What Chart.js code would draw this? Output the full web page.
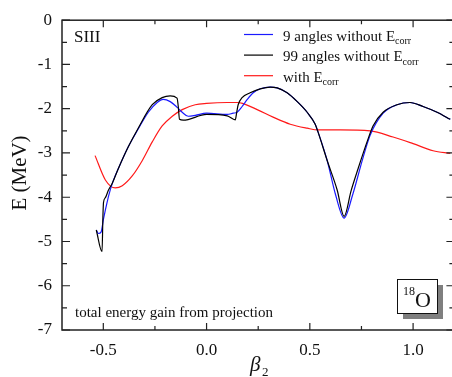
<!DOCTYPE html>
<html>
<head>
<meta charset="utf-8">
<script src="https://cdn.jsdelivr.net/npm/chart.js@4.4.1/dist/chart.umd.min.js"></script>
<style>
  body { margin: 0; background: #fff; }
  #wrap { width: 452px; height: 377px; overflow: hidden; position: relative; }
</style>
</head>
<body>
<div id="wrap"><canvas id="energy_chart" width="458" height="377"></canvas></div>
<script>
// beta2 deformation / energy gain values, one pair of arrays per curve
var beta9 = [-0.534, -0.523, -0.511, -0.499, -0.482, -0.466, -0.452, -0.427, -0.379, -0.331, -0.282, -0.239, -0.21, -0.176, -0.142, -0.118, -0.089, -0.055, 0.0, 0.1, 0.129, 0.148, 0.172, 0.197, 0.226, 0.26, 0.308, 0.342, 0.39, 0.439, 0.487, 0.526, 0.54, 0.584, 0.625, 0.666, 0.707, 0.755, 0.792, 0.855, 0.922, 0.985, 1.048, 1.116, 1.18];
var e9 = [-4.74, -4.82, -4.79, -4.49, -4.12, -3.83, -3.63, -3.35, -2.86, -2.46, -2.08, -1.86, -1.79, -1.84, -1.97, -2.08, -2.17, -2.15, -2.10, -2.13, -2.10, -2.08, -1.95, -1.79, -1.64, -1.55, -1.51, -1.53, -1.64, -1.84, -2.08, -2.35, -2.53, -3.17, -3.95, -4.47, -3.95, -3.15, -2.60, -2.10, -1.91, -1.86, -1.95, -2.08, -2.24];

var beta99 = [-0.534, -0.506, -0.502, -0.499, -0.49, -0.476, -0.456, -0.427, -0.379, -0.331, -0.263, -0.215, -0.176, -0.143, -0.137, -0.131, -0.113, 0.0, 0.1, 0.139, 0.146, 0.153, 0.172, 0.211, 0.26, 0.308, 0.342, 0.39, 0.439, 0.487, 0.526, 0.54, 0.584, 0.632, 0.666, 0.7, 0.734, 0.777, 0.806, 0.855, 0.922, 0.985, 1.048, 1.116, 1.18];
var e99 = [-4.74, -5.23, -4.45, -4.12, -4.01, -3.85, -3.68, -3.35, -2.86, -2.44, -1.91, -1.75, -1.71, -1.76, -1.95, -2.24, -2.26, -2.13, -2.16, -2.25, -2.08, -1.91, -1.75, -1.64, -1.55, -1.51, -1.53, -1.64, -1.84, -2.08, -2.35, -2.53, -3.17, -3.83, -4.43, -3.85, -3.35, -2.75, -2.39, -2.08, -1.91, -1.86, -1.95, -2.08, -2.24];

var betaCorr = [-0.54, -0.49, -0.442, -0.408, -0.36, -0.311, -0.263, -0.215, -0.166, -0.118, -0.055, 0.0, 0.1, 0.148, 0.174, 0.245, 0.322, 0.405, 0.487, 0.54, 0.647, 0.792, 0.903, 1.0, 1.097, 1.18];
var eCorr = [-3.06, -3.61, -3.79, -3.74, -3.52, -3.17, -2.75, -2.39, -2.17, -2.02, -1.91, -1.88, -1.86, -1.86, -1.88, -2.02, -2.19, -2.35, -2.44, -2.48, -2.48, -2.50, -2.64, -2.79, -2.95, -3.01];

var xMajor = [-0.5, 0.0, 0.5, 1.0];
var xMinor = [-0.25, 0.25, 0.75];
var yMajor = [-7, -6, -5, -4, -3, -2, -1, 0];
var yMinor = [-6.5, -5.5, -4.5, -3.5, -2.5, -1.5, -0.5];

var legendText = ['9 angles without E', '99 angles without E', 'with E'];
var serif = "'Liberation Serif', 'DejaVu Serif', serif";

function toPoints(xs, ys) {
  return xs.map(function (x, i) { return {x: x, y: ys[i]}; });
}

function makeSet(label, xs, ys, color, order) {
  return {
    label: label,
    data: toPoints(xs, ys),
    borderColor: color,
    backgroundColor: 'transparent',
    borderWidth: 1.2,
    pointRadius: 0,
    cubicInterpolationMode: 'monotone',
    fill: false,
    order: order
  };
}

// frame, inward ticks, legend and the text labels
var decorations = {
  id: 'decorations',
  afterDraw: function (chart) {
    var ctx = chart.ctx;
    var a = chart.chartArea;
    var xs = chart.scales.x, ys = chart.scales.y;
    ctx.save();
    ctx.strokeStyle = '#222';
    ctx.lineWidth = 1.5;
    ctx.strokeRect(a.left, a.top, a.right - a.left, a.bottom - a.top);

    ctx.lineWidth = 1.2;
    ctx.beginPath();
    function vTick(v, len) {
      var px = xs.getPixelForValue(v);
      ctx.moveTo(px, a.bottom); ctx.lineTo(px, a.bottom - len);
      ctx.moveTo(px, a.top); ctx.lineTo(px, a.top + len);
    }
    function hTick(v, len) {
      var py = ys.getPixelForValue(v);
      ctx.moveTo(a.left, py); ctx.lineTo(a.left + len, py);
      ctx.moveTo(a.right, py); ctx.lineTo(a.right - len, py);
    }
    xMajor.forEach(function (v) { vTick(v, 7); });
    xMinor.forEach(function (v) { vTick(v, 4); });
    yMajor.forEach(function (v) { hTick(v, 8); });
    yMinor.forEach(function (v) { hTick(v, 5); });
    ctx.stroke();

    ctx.fillStyle = '#111';
    ctx.textBaseline = 'alphabetic';

    // legend
    chart.data.datasets.forEach(function (ds, i) {
      var ly = 34.5 + 20.6 * i;
      ctx.strokeStyle = ds.borderColor;
      ctx.lineWidth = 1.2;
      ctx.beginPath();
      ctx.moveTo(244, ly); ctx.lineTo(273, ly);
      ctx.stroke();
      ctx.font = '15px ' + serif;
      ctx.textAlign = 'left';
      ctx.fillText(legendText[i], 283, ly + 6);
      var w = ctx.measureText(legendText[i]).width;
      ctx.font = '10px ' + serif;
      ctx.fillText('corr', 283 + w, ly + 9.5);
    });

    ctx.font = '17px ' + serif;
    ctx.fillText('SIII', 74, 42);

    ctx.font = '15px ' + serif;
    ctx.fillText('total energy gain from projection', 75, 317);

    // nucleus label box with drop shadow
    ctx.fillStyle = '#7f7f7f';
    ctx.fillRect(403, 285, 40, 34);
    ctx.fillStyle = '#fff';
    ctx.fillRect(397, 279, 40, 34);
    ctx.strokeStyle = '#111';
    ctx.lineWidth = 1;
    ctx.strokeRect(397.5, 279.5, 40, 34);
    ctx.fillStyle = '#111';
    ctx.font = '12px ' + serif;
    ctx.fillText('18', 403, 295);
    ctx.font = '22px ' + serif;
    ctx.fillText('O', 415, 307);

    // axis titles
    ctx.font = 'italic 21px ' + serif;
    ctx.fillText('\u03b2', 250, 371);
    ctx.font = '13px ' + serif;
    ctx.fillText('2', 262, 376);

    ctx.save();
    ctx.translate(26, 173);
    ctx.rotate(-Math.PI / 2);
    ctx.textAlign = 'center';
    ctx.font = '21px ' + serif;
    ctx.fillText('E (MeV)', 0, 0);
    ctx.restore();

    ctx.restore();
  }
};

new Chart(document.getElementById('energy_chart'), {
  type: 'line',
  data: {
    datasets: [
      makeSet(legendText[0] + 'corr', beta9, e9, '#1a1aff', 1),
      makeSet(legendText[1] + 'corr', beta99, e99, '#000000', 0),
      makeSet(legendText[2] + 'corr', betaCorr, eCorr, '#ff1a1a', 2)
    ]
  },
  options: {
    responsive: false,
    animation: false,
    layout: { padding: { top: 14, right: 3.6, left: 0, bottom: 0 } },
    plugins: { legend: { display: false }, tooltip: { enabled: false } },
    scales: {
      x: {
        type: 'linear',
        min: -0.7,
        max: 1.2,
        grid: { display: false, drawTicks: false },
        border: { display: false },
        afterBuildTicks: function (scale) {
          scale.ticks = xMajor.map(function (v) { return {value: v}; });
        },
        afterFit: function (scale) { scale.height = 47; },
        ticks: {
          padding: 10,
          color: '#111',
          font: { family: serif, size: 17 },
          callback: function (v) { return Number(v).toFixed(1); }
        }
      },
      y: {
        type: 'linear',
        min: -7,
        max: 0,
        grid: { display: false, drawTicks: false },
        border: { display: false },
        afterBuildTicks: function (scale) {
          scale.ticks = yMajor.map(function (v) { return {value: v}; });
        },
        afterFit: function (scale) { scale.width = 62; },
        ticks: {
          padding: 10,
          color: '#111',
          font: { family: serif, size: 17 },
          callback: function (v) { return String(v); }
        }
      }
    }
  },
  plugins: [decorations]
});
</script>
</body>
</html>
